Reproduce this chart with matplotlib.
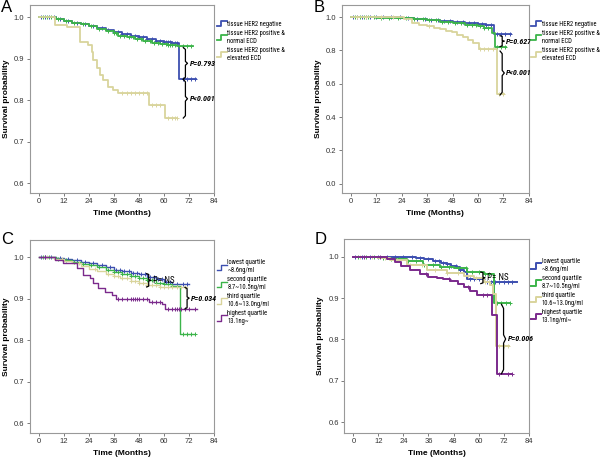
import numpy as np
import matplotlib
matplotlib.use("Agg")
import matplotlib.pyplot as plt
from matplotlib.lines import Line2D
from matplotlib.legend_handler import HandlerBase

plt.rcParams['font.family'] = ['Liberation Sans', 'DejaVu Sans']
LEG_FONT = ['Roboto Condensed', 'DejaVu Sans']

# colours of the groups
BLUE = '#3d4fb0'
GREEN = '#3cb44a'
TAN = '#d9d49c'
PURPLE = '#7b2a8c'

# ---------------- Panel A: tissue HER2 / ECD groups ----------------
a_labels = ['tissue HER2 negative', 'tissue HER2 positive &\nnormal ECD',
            'tissue HER2 positive &\nelevated ECD']
a_neg_t = [0, 8, 12, 16, 20, 24, 28, 32, 36, 40, 44, 48, 52, 56, 60, 64, 67.3, 75.5]
a_neg_s = [1.0, 0.997, 0.991, 0.987, 0.984, 0.980, 0.975, 0.970, 0.965, 0.960, 0.956,
           0.952, 0.948, 0.944, 0.940, 0.937, 0.851, 0.851]
a_nor_t = [0, 8, 12, 16, 20, 24, 28, 32, 36, 38, 42, 46, 50, 54, 58, 62, 66, 73.9]
a_nor_s = [1.0, 0.995, 0.990, 0.986, 0.983, 0.979, 0.973, 0.968, 0.962, 0.955, 0.952,
           0.948, 0.944, 0.938, 0.935, 0.932, 0.930, 0.930]
a_ele_t = [0, 7.7, 13.3, 19.7, 23.7, 25.3, 26.1, 27.7, 29.3, 30.9, 33.3, 35.7, 37.7,
           52.6, 60.6, 66.2]
a_ele_s = [1.0, 0.981, 0.976, 0.941, 0.933, 0.917, 0.897, 0.877, 0.861, 0.849, 0.833,
           0.825, 0.817, 0.789, 0.757, 0.757]
a_neg_c = [1, 3, 5, 7, 10, 14, 18, 22, 26, 30, 33, 36, 38, 40, 42, 44, 46, 48, 50, 52,
           54, 56, 58, 60, 61, 62, 63, 64, 65, 66, 69, 71, 73, 75]
a_nor_c = [2, 4, 6, 9, 13, 17, 21, 25, 29, 33, 36, 37, 39, 41, 43, 45, 47, 49, 51, 53,
           55, 57, 59, 61, 62, 63, 64, 65, 67, 69, 71, 73]
a_ele_c = [40, 42, 44, 46, 48, 50, 52, 54, 56, 58, 62, 64, 65, 66]

# ---------------- Panel B ----------------
b_neg_t = [0, 12, 24, 30, 36, 42, 48, 54, 60, 64, 67.4, 75.6]
b_neg_s = [1.0, 0.998, 0.995, 0.990, 0.985, 0.978, 0.972, 0.966, 0.960, 0.955, 0.898, 0.898]
b_nor_t = [0, 12, 24, 30, 36, 42, 48, 54, 60, 63, 66.6, 67.9, 73.3]
b_nor_s = [1.0, 0.997, 0.993, 0.987, 0.980, 0.972, 0.965, 0.955, 0.945, 0.935, 0.902,
           0.818, 0.818]
b_ele_t = [0, 25, 28.7, 32, 35.8, 39, 42.1, 45, 47.6, 50, 53, 55.5, 57.9, 60.3, 69, 72.2]
b_ele_s = [1.0, 0.986, 0.962, 0.955, 0.946, 0.936, 0.926, 0.918, 0.910, 0.894, 0.878,
           0.862, 0.844, 0.806, 0.538, 0.538]
b_neg_c = [1, 3, 5, 7, 9, 12, 15, 19, 23, 27, 31, 35, 38, 41, 44, 47, 50, 53, 56, 58,
           60, 62, 64, 66, 69, 71, 73, 75]
b_nor_c = [2, 4, 6, 8, 11, 14, 18, 22, 26, 30, 34, 37, 40, 43, 46, 49, 52, 55, 57, 59,
           61, 63, 65, 69, 71, 73]
b_ele_c = [3, 7, 14, 20, 37, 61, 63, 65, 67, 70, 72]

# ---------------- Panel C: quartiles ----------------
q_labels_c = ['lowest quartile\n~8.6ng/ml', 'second quartile\n8.7~10.5ng/ml',
              'third quartile\n10.6~13.0ng/ml', 'highest quartile\n13.1ng~']
c_q1_t = [0, 8, 12, 16, 20, 24, 28, 32, 36, 40, 44, 48, 52, 56, 60, 64, 71.8]
c_q1_s = [1.0, 0.998, 0.995, 0.992, 0.989, 0.985, 0.980, 0.975, 0.970, 0.966, 0.962,
          0.958, 0.952, 0.946, 0.940, 0.936, 0.936]
c_q2_t = [0, 8, 12, 16, 20, 24, 28, 32, 36, 40, 44, 48, 52, 56, 60, 64, 67.8, 75]
c_q2_s = [1.0, 0.996, 0.992, 0.988, 0.984, 0.980, 0.975, 0.970, 0.965, 0.960, 0.955,
          0.950, 0.944, 0.938, 0.934, 0.931, 0.814, 0.814]
c_q3_t = [0, 7, 12, 16, 20, 24, 28, 32, 36, 39, 44, 48, 52, 58, 66.6, 71]
c_q3_s = [1.0, 0.995, 0.990, 0.985, 0.978, 0.972, 0.966, 0.960, 0.954, 0.949, 0.942,
          0.937, 0.933, 0.929, 0.927, 0.927]
c_q4_t = [0, 7.7, 11.7, 18.1, 21.3, 24.5, 26.1, 28.5, 31.7, 34.9, 37, 52.6, 59, 60.6, 75.8]
c_q4_s = [1.0, 0.993, 0.985, 0.973, 0.957, 0.949, 0.937, 0.925, 0.917, 0.909, 0.899,
          0.892, 0.887, 0.875, 0.875]
c_q1_c = [1, 3, 6, 10, 14, 18, 22, 26, 30, 34, 37, 39, 41, 43, 45, 47, 49, 51, 53, 55,
          57, 59, 61, 63, 66, 69, 71]
c_q2_c = [2, 5, 9, 13, 17, 21, 25, 29, 33, 36, 38, 40, 42, 44, 46, 48, 50, 52, 54, 56,
          58, 60, 62, 64, 66, 69, 71, 73, 75]
c_q3_c = [4, 11, 19, 27, 33, 36, 38, 40, 42, 44, 46, 48, 50, 52, 54, 56, 58, 60, 62, 64,
          66, 68, 70]
c_q4_c = [3, 38, 40, 42, 44, 45, 46, 47, 48, 50, 52, 54, 56, 58, 62, 64, 65, 66, 67, 68,
          70, 72, 75]

# ---------------- Panel D ----------------
q_labels_d = ['lowest quartile\n~8.6ng/ml', 'second quartile\n8.7~10.5ng/ml',
              'third quartile\n10.6~13.0ng/ml', 'highest quartile\n13.1ng/ml~']
d_q1_t = [0, 30, 34, 38.4, 42, 44.8, 47, 49.6, 51, 52.8, 54.4, 62.4, 78.4]
d_q1_s = [1.0, 0.998, 0.995, 0.990, 0.986, 0.982, 0.978, 0.974, 0.969, 0.964, 0.945,
          0.939, 0.939]
d_q2_t = [0, 12, 17.6, 25.6, 33.6, 41.6, 48, 54.4, 62.4, 67.2, 75.2]
d_q2_s = [1.0, 0.998, 0.995, 0.989, 0.981, 0.975, 0.972, 0.963, 0.957, 0.888, 0.888]
d_q3_t = [0, 12, 17.6, 25.6, 35.2, 44.8, 52.8, 57.6, 62.4, 65.6, 66.9, 68.5, 74.4]
d_q3_s = [1.0, 0.997, 0.993, 0.981, 0.969, 0.960, 0.954, 0.948, 0.940, 0.932, 0.911,
          0.783, 0.783]
d_q4_t = [0, 16, 19.9, 23, 27.2, 32, 36, 40, 43, 46.4, 50, 52.8, 56, 59.2, 66.4, 68.8, 76]
d_q4_s = [1.0, 0.995, 0.987, 0.978, 0.969, 0.957, 0.952, 0.949, 0.945, 0.941, 0.935,
          0.927, 0.918, 0.907, 0.860, 0.717, 0.717]
d_q1_c = [1, 4, 8, 12, 16, 20, 24, 28, 32, 36, 39, 41, 43, 45, 47, 49, 51, 53, 56, 58,
          60, 62, 64, 66, 68, 70, 72, 74, 76]
d_q2_c = [2, 6, 10, 14, 18, 22, 26, 30, 34, 38, 42, 46, 50, 54, 57, 60, 63, 65, 69, 71,
          73, 75]
d_q3_c = [3, 9, 15, 21, 27, 33, 39, 45, 50, 55, 59, 63, 65, 70, 72, 74]
d_q4_c = [5, 13, 35, 46, 55, 62, 64, 70, 74, 76]


def km(ax, t, s, cens, color, lw, label):
    ax.step(t, s, where='post', color=color, lw=lw, label=label)
    cs = np.array(s)[np.searchsorted(t, cens, side='right') - 1]
    ax.plot(cens, cs, ls='none', marker='+', ms=2.6, mew=0.7, color=color)


def brace(ax, x, top, bot, text, size=5.8, style='italic', weight='bold'):
    mid = (top + bot) / 2
    dx = 1.0
    h = (top - bot) * 0.06
    ax.plot([x - dx, x, x, x + dx, x, x, x - dx],
            [top, top - h, mid + h, mid, mid - h, bot + h, bot],
            color='black', lw=0.9, clip_on=False)
    ax.text(x + 2.0, mid, text, fontsize=size, fontstyle=style, fontweight=weight,
            va='center', ha='left', family=LEG_FONT)


class StepHandler(HandlerBase):
    def create_artists(self, legend, orig_handle, xdescent, ydescent, width, height,
                       fontsize, trans):
        x0 = -xdescent
        y0 = -ydescent
        xs = [x0, x0 + width * 0.45, x0 + width * 0.45, x0 + width]
        ys = [y0 + height * 0.05, y0 + height * 0.05, y0 + height * 0.95, y0 + height * 0.95]
        ln = Line2D(xs, ys, color=orig_handle.get_color(),
                    lw=orig_handle.get_linewidth(), transform=trans)
        return [ln]


def style_axes(ax, ylim, yticks, leg_y):
    ax.set_xlim(-4.3, 84)
    ax.set_ylim(*ylim)
    ax.set_xticks([0, 12, 24, 36, 48, 60, 72, 84])
    ax.set_yticks(yticks)
    ax.set_yticklabels([f'{v:.1f}' for v in yticks])
    ax.tick_params(labelsize=5.5, length=2.5, width=0.6, color='#666666',
                   labelcolor='#333333', pad=1.5)
    for sp in ax.spines.values():
        sp.set_color('#999999')
        sp.set_linewidth(0.8)
    ax.set_xlabel('Time (Months)', fontsize=6, fontweight='bold', labelpad=3)
    ax.set_ylabel('Survival probability', fontsize=6, fontweight='bold', labelpad=3)
    ax.legend(loc='upper left', bbox_to_anchor=(1.0, leg_y), frameon=False,
              borderaxespad=0, prop={'family': LEG_FONT, 'size': 4.7},
              handlelength=1.5, handleheight=1.0,
              handletextpad=0.1, labelspacing=0.3,
              handler_map={Line2D: StepHandler()})


fig = plt.figure(figsize=(6, 4.58), dpi=100)
axA = fig.add_axes([0.050, 0.579, 0.307, 0.410])
axB = fig.add_axes([0.570, 0.579, 0.311, 0.410])
axC = fig.add_axes([0.050, 0.055, 0.307, 0.420])
axD = fig.add_axes([0.574, 0.055, 0.307, 0.423])

# panel letters
for x, y, letter in [(0.002, 0.999, 'A'), (0.522, 0.999, 'B'),
                     (0.002, 0.493, 'C'), (0.525, 0.493, 'D')]:
    fig.text(x, y, letter, fontsize=12, va='top', ha='left')

# A
km(axA, a_neg_t, a_neg_s, a_neg_c, BLUE, 1.3, a_labels[0])
km(axA, a_nor_t, a_nor_s, a_nor_c, GREEN, 1.3, a_labels[1])
km(axA, a_ele_t, a_ele_s, a_ele_c, TAN, 1.3, a_labels[2])
style_axes(axA, (0.5766, 1.0296), [0.6, 0.7, 0.8, 0.9, 1.0], 0.93)
brace(axA, 70.2, a_nor_s[-1] - 0.003, a_neg_s[-1], 'P=0.793')
brace(axA, 70.2, a_neg_s[-1] - 0.001, a_ele_s[-1], 'P<0.001')

# B
km(axB, b_neg_t, b_neg_s, b_neg_c, BLUE, 1.3, a_labels[0])
km(axB, b_nor_t, b_nor_s, b_nor_c, GREEN, 1.3, a_labels[1])
km(axB, b_ele_t, b_ele_s, b_ele_c, TAN, 1.3, a_labels[2])
style_axes(axB, (-0.054, 1.072), [0.0, 0.2, 0.4, 0.6, 0.8, 1.0], 0.93)
brace(axB, 71.5, b_neg_s[-1] - 0.01, b_nor_s[-1] + 0.005, 'P=0.627')
brace(axB, 71.5, b_ele_s[-3] - 0.01, b_ele_s[-1] - 0.005, 'P<0.001')

# C
km(axC, c_q1_t, c_q1_s, c_q1_c, BLUE, 1.0, q_labels_c[0])
km(axC, c_q2_t, c_q2_s, c_q2_c, GREEN, 1.0, q_labels_c[1])
km(axC, c_q3_t, c_q3_s, c_q3_c, TAN, 1.0, q_labels_c[2])
km(axC, c_q4_t, c_q4_s, c_q4_c, PURPLE, 1.0, q_labels_c[3])
style_axes(axC, (0.5766, 1.04), [0.6, 0.7, 0.8, 0.9, 1.0], 0.915)
brace(axC, 52.6, 0.960, 0.928, 'P= NS', size=6.5, style='normal', weight='normal')
brace(axC, 71, c_q3_s[-1], c_q4_s[-1], 'P=0.034')

# D
km(axD, d_q1_t, d_q1_s, d_q1_c, BLUE, 1.4, q_labels_d[0])
km(axD, d_q2_t, d_q2_s, d_q2_c, GREEN, 1.4, q_labels_d[1])
km(axD, d_q3_t, d_q3_s, d_q3_c, TAN, 1.4, q_labels_d[2])
km(axD, d_q4_t, d_q4_s, d_q4_c, PURPLE, 1.4, q_labels_d[3])
style_axes(axD, (0.574, 1.0427), [0.6, 0.7, 0.8, 0.9, 1.0], 0.915)
brace(axD, 62.1, 0.963, 0.935, 'P= NS', size=6.5, style='normal', weight='normal')
brace(axD, 72, d_q2_s[-1] - 0.003, d_q4_s[-1], 'P=0.006')

fig.savefig('out.png', dpi=100)
